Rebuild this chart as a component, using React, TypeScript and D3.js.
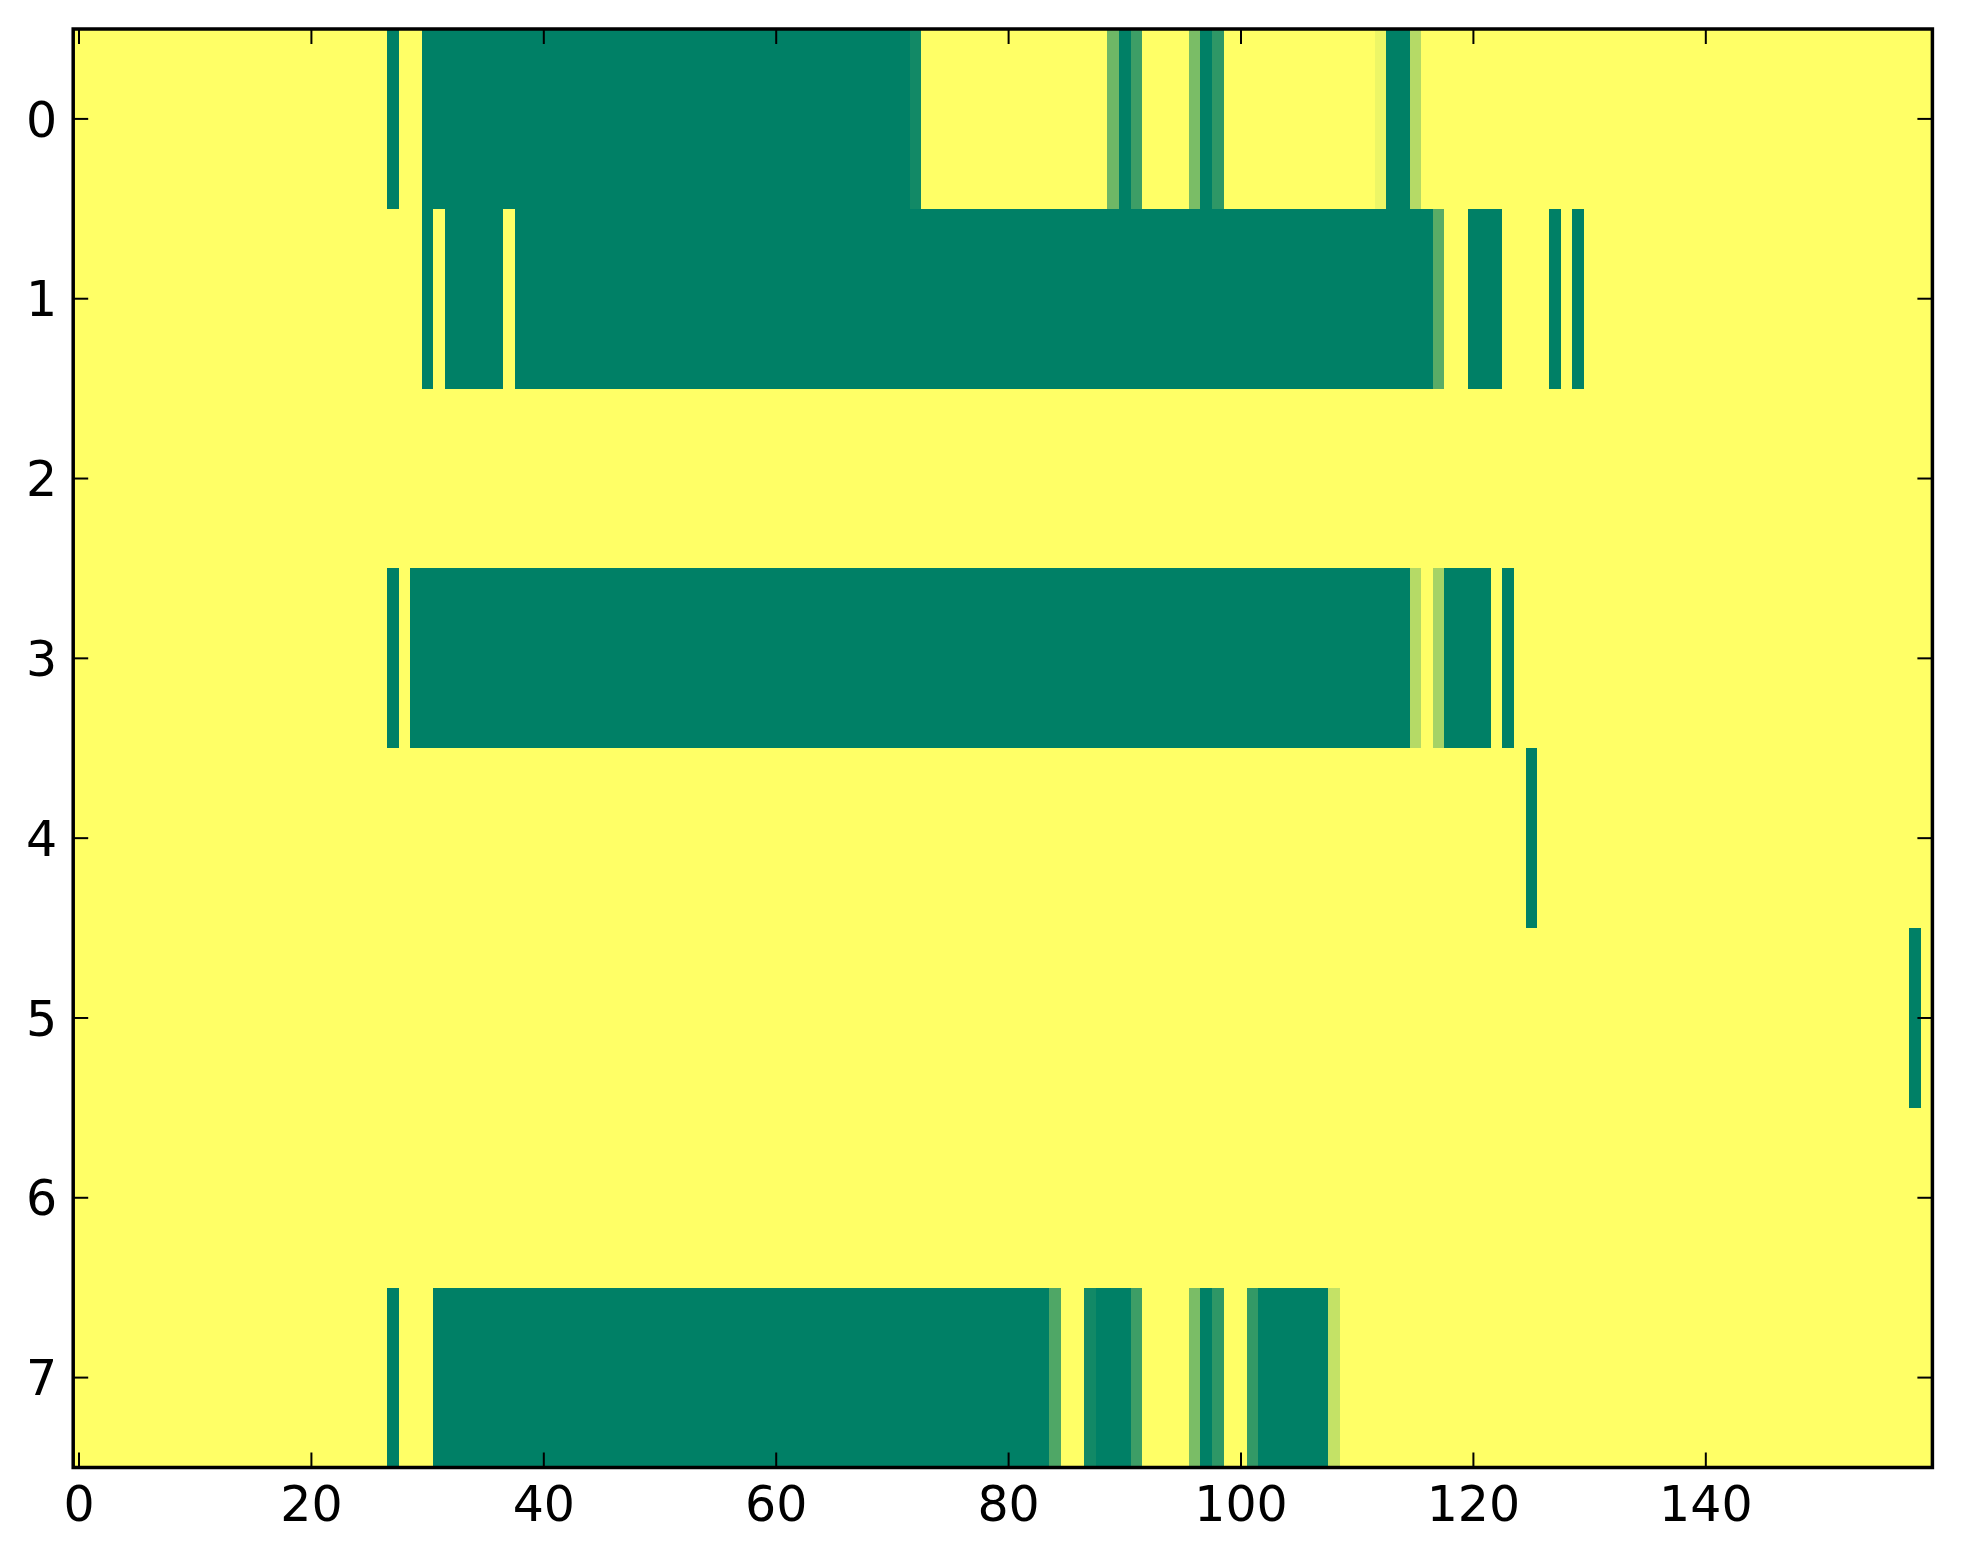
import React from "react";
import * as d3 from "d3";

// Heat-map data: each row is a list of runs [startCol, endCol, value], value in 0..1 (0 = yellow, 1 = green)
const nCols = 160;
const rowLabels = [0, 1, 2, 3, 4, 5, 6, 7];
const xTicks = [0, 20, 40, 60, 80, 100, 120, 140];

const row0Runs = [[27, 27, 1], [30, 71, 1], [72, 72, 0.93], [89, 89, 0.57], [90, 90, 1], [91, 91, 0.76], [96, 96, 0.52], [97, 97, 1], [98, 98, 0.82], [112, 112, 0.07], [113, 114, 1], [115, 115, 0.29]];
const row1Runs = [[30, 30, 1], [32, 36, 1], [38, 116, 1], [117, 117, 0.65], [120, 122, 1], [127, 127, 1], [129, 129, 1]];
const row2Runs: number[][] = [];
const row3Runs = [[27, 27, 1], [29, 114, 1], [115, 115, 0.29], [117, 117, 0.35], [118, 121, 1], [123, 123, 1]];
const row4Runs = [[125, 125, 1]];
const row5Runs = [[158, 158, 1]];
const row6Runs: number[][] = [];
const row7Runs = [[27, 27, 1], [31, 83, 1], [84, 84, 0.69], [87, 87, 0.93], [88, 90, 1], [91, 91, 0.76], [96, 96, 0.52], [97, 97, 1], [98, 98, 0.82], [101, 101, 0.8], [102, 107, 1], [108, 108, 0.23]];

const allRuns = [row0Runs, row1Runs, row2Runs, row3Runs, row4Runs, row5Runs, row6Runs, row7Runs];

const W = 1963;
const H = 1564;
const left = 73.2;
const right = 1932.4;
const top = 29;
const bottom = 1467.5;

export default function App() {
  const x = d3.scaleLinear().domain([-0.5, nCols - 0.5]).range([left, right]);
  const y = d3.scaleLinear().domain([-0.5, rowLabels.length - 0.5]).range([top, bottom]);
  const color = d3.scaleLinear<string>().domain([0, 1]).range(["#ffff66", "#008066"]).interpolate(d3.interpolateRgb);

  // build matrix
  const matrix = allRuns.map((runs) => {
    const arr = new Array(nCols).fill(0);
    runs.forEach(([s, e, v]) => {
      for (let c = s; c <= e; c++) arr[c] = v;
    });
    return arr;
  });

  // merge consecutive equal cells into segments for drawing
  const segs: { r: number; s: number; e: number; v: number }[] = [];
  matrix.forEach((arr, r) => {
    let s = 0;
    for (let c = 1; c <= nCols; c++) {
      if (c === nCols || arr[c] !== arr[s]) {
        segs.push({ r, s, e: c - 1, v: arr[s] });
        s = c;
      }
    }
  });

  const tickLen = 15;
  const font = "'DejaVu Sans', sans-serif";
  const fs = 49;

  return (
    <svg width={W} height={H} style={{ position: "absolute", left: 0, top: 0, background: "#fff" }}>
      <g shapeRendering="crispEdges">
        {segs.map((d, i) => (
          <rect
            key={i}
            x={x(d.s - 0.5)}
            y={y(d.r - 0.5)}
            width={x(d.e + 0.5) - x(d.s - 0.5)}
            height={y(d.r + 0.5) - y(d.r - 0.5)}
            fill={color(d.v)}
          />
        ))}
      </g>
      {xTicks.map((t) => (
        <g key={"x" + t}>
          <line x1={x(t)} x2={x(t)} y1={bottom} y2={bottom - tickLen} stroke="#000" strokeWidth={2} />
          <line x1={x(t)} x2={x(t)} y1={top} y2={top + tickLen} stroke="#000" strokeWidth={2} />
          <text x={x(t)} y={bottom + 16 + fs * 0.76} textAnchor="middle" fontFamily={font} fontSize={fs} fill="#000">
            {t}
          </text>
        </g>
      ))}
      {rowLabels.map((t) => (
        <g key={"y" + t}>
          <line x1={left} x2={left + tickLen} y1={y(t)} y2={y(t)} stroke="#000" strokeWidth={2} />
          <line x1={right} x2={right - tickLen} y1={y(t)} y2={y(t)} stroke="#000" strokeWidth={2} />
          <text x={left - 16} y={y(t)} dy="0.36em" textAnchor="end" fontFamily={font} fontSize={fs} fill="#000">
            {t}
          </text>
        </g>
      ))}
      <rect x={left} y={top} width={right - left} height={bottom - top} fill="none" stroke="#000" strokeWidth={3.5} />
    </svg>
  );
}
